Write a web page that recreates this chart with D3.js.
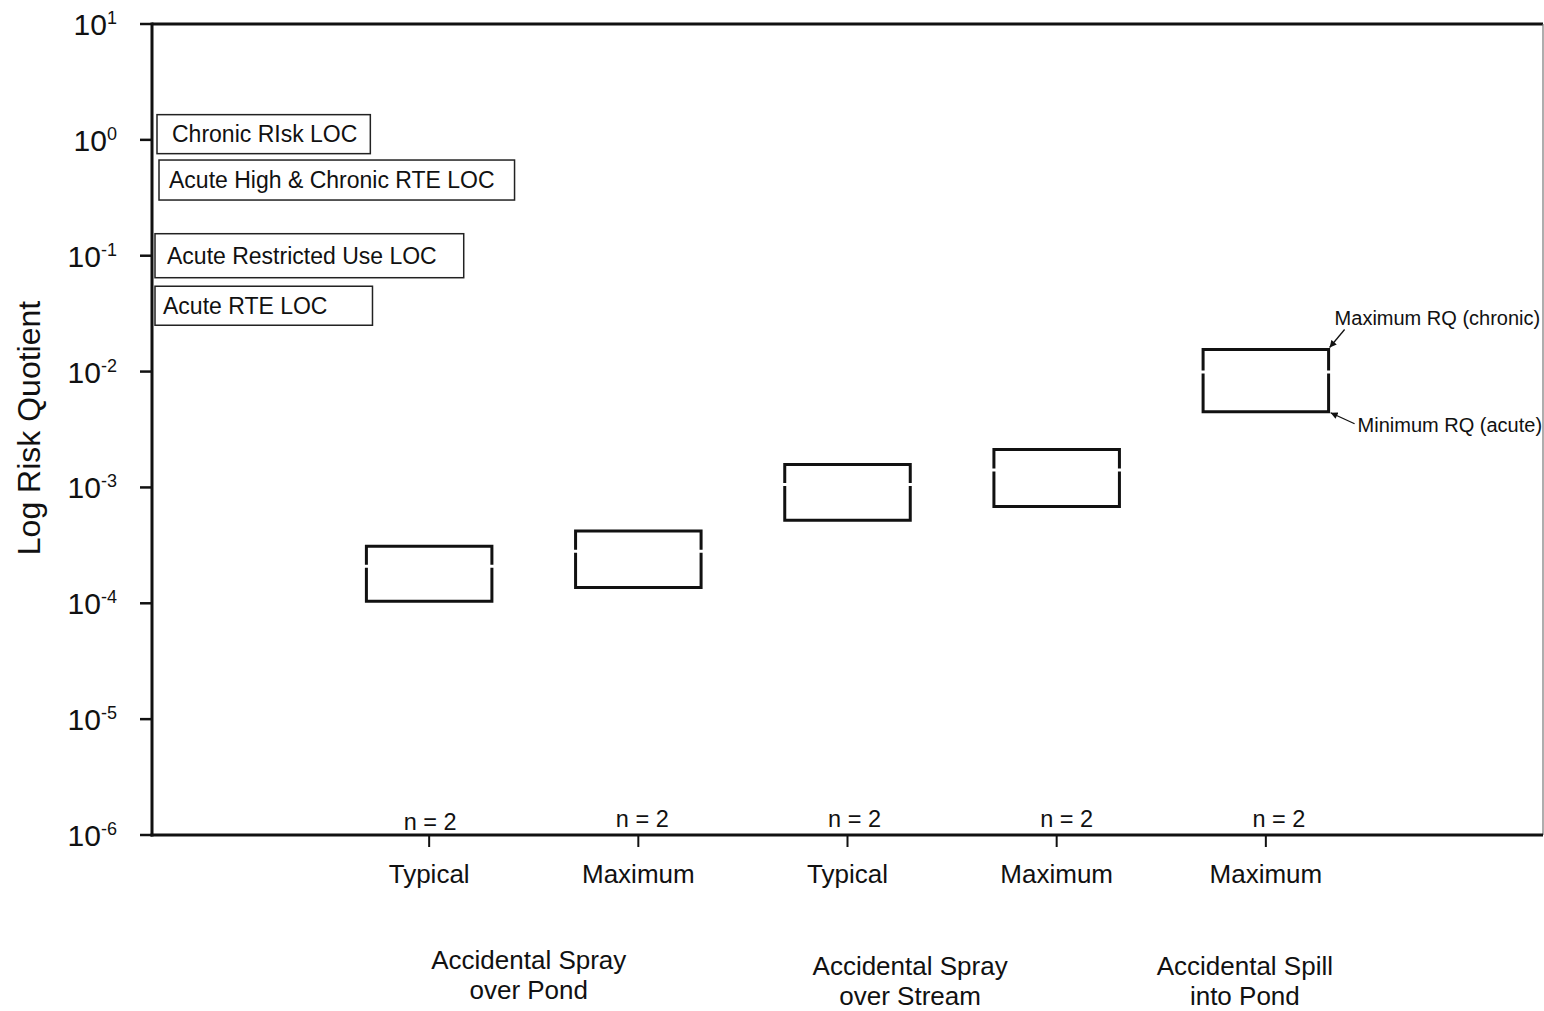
<!DOCTYPE html>
<html lang="en">
<head>
    <meta charset="UTF-8">
    <title>Log Risk Quotient</title>
    <script src="https://d3js.org/d3.v7.min.js"></script>
    <style>
        body { margin: 0; background: #fff; font-family: "Liberation Sans", Arial, sans-serif; }
        svg { display: block; }
        text { fill: #111; }
    </style>
</head>
<body>
    <svg id="chart" width="1544" height="1011"></svg>

    <script>
        // scenario columns along the x axis
        const scenarioLabels = ["Typical", "Maximum", "Typical", "Maximum", "Maximum"];
        const sampleSizes = [2, 2, 2, 2, 2];
        // risk quotient range per scenario (top = max chronic RQ, bottom = min acute RQ)
        const rqMax = [3.1e-4, 4.2e-4, 1.58e-3, 2.13e-3, 1.55e-2];
        const rqMin = [1.04e-4, 1.37e-4, 5.2e-4, 6.85e-4, 4.5e-3];

        // exposure groups under the scenario labels
        const groupLines = [
            ["Accidental Spray", "over Pond"],
            ["Accidental Spray", "over Stream"],
            ["Accidental Spill", "into Pond"]
        ];
        const groupMembers = [[0, 1], [2, 3], [4]];

        // level of concern labels and the RQ level they sit at
        const locLabels = ["Chronic RIsk LOC", "Acute High & Chronic RTE LOC", "Acute Restricted Use LOC", "Acute RTE LOC"];
        const locLevels = [1.12, 0.45, 0.1, 0.037];

        const yTickExponents = [1, 0, -1, -2, -3, -4, -5, -6];

        const svg = d3.select("#chart");
        const plotLeft = 152, plotRight = 1543, plotTop = 24, plotBottom = 835;

        const y = d3.scaleLog().domain([1e-6, 10]).range([plotBottom, plotTop]);
        const x = d3.scalePoint()
            .domain(scenarioLabels.map((d, i) => i))
            .range([plotLeft, plotRight])
            .padding(1.325);
        const boxW = x.step() * 0.6;

        // frame: top line heavy, right line thin
        svg.append("line")
            .attr("x1", plotLeft).attr("x2", plotRight)
            .attr("y1", plotTop).attr("y2", plotTop)
            .attr("stroke", "#111").attr("stroke-width", 3);
        svg.append("line")
            .attr("x1", plotRight).attr("x2", plotRight)
            .attr("y1", plotTop).attr("y2", plotBottom)
            .attr("stroke", "#777").attr("stroke-width", 1.2);

        // y axis
        const yAxis = svg.append("g");
        yAxis.append("line")
            .attr("x1", plotLeft).attr("x2", plotLeft)
            .attr("y1", plotTop - 1.5).attr("y2", plotBottom + 1.5)
            .attr("stroke", "#111").attr("stroke-width", 3);
        const yt = yAxis.selectAll("g.tick")
            .data(yTickExponents)
            .join("g")
            .attr("class", "tick")
            .attr("transform", d => `translate(0,${y(Math.pow(10, d))})`);
        yt.append("line")
            .attr("x1", plotLeft - 12).attr("x2", plotLeft)
            .attr("stroke", "#111").attr("stroke-width", 2.5);
        const ytl = yt.append("text")
            .attr("x", 117)
            .attr("y", 11)
            .attr("text-anchor", "end")
            .style("font-size", "30px");
        ytl.append("tspan").text("10");
        ytl.append("tspan")
            .attr("dy", -11)
            .style("font-size", "18px")
            .text(d => d);

        svg.append("text")
            .attr("transform", "translate(40,428) rotate(-90)")
            .attr("text-anchor", "middle")
            .style("font-size", "32px")
            .text("Log Risk Quotient");

        // x axis
        svg.append("line")
            .attr("x1", plotLeft - 1.5).attr("x2", plotRight)
            .attr("y1", plotBottom).attr("y2", plotBottom)
            .attr("stroke", "#111").attr("stroke-width", 3);
        const xt = svg.append("g").selectAll("g")
            .data(scenarioLabels)
            .join("g")
            .attr("transform", (d, i) => `translate(${x(i)},0)`);
        xt.append("line")
            .attr("y1", plotBottom).attr("y2", plotBottom + 12)
            .attr("stroke", "#111").attr("stroke-width", 2);
        xt.append("text")
            .attr("y", plotBottom + 48)
            .attr("text-anchor", "middle")
            .style("font-size", "26px")
            .text(d => d);
        xt.append("text")
            .attr("x", (d, i) => 1 + i * 3)
            .attr("y", (d, i) => i === 0 ? plotBottom - 5 : plotBottom - 8)
            .attr("text-anchor", "middle")
            .style("font-size", "23.5px")
            .text((d, i) => "n = " + sampleSizes[i]);

        // group labels
        const groupNudge = [[-5, 0], [-42, 6], [-21, 6]];
        const gl = svg.append("g").selectAll("text")
            .data(groupLines)
            .join("text")
            .attr("text-anchor", "middle")
            .style("font-size", "26px")
            .attr("transform", (d, i) => {
                const cx = d3.mean(groupMembers[i], k => x(k)) + groupNudge[i][0];
                return `translate(${cx},${969 + groupNudge[i][1]})`;
            });
        gl.selectAll("tspan")
            .data(d => d)
            .join("tspan")
            .attr("x", 0)
            .attr("dy", (d, j) => j === 0 ? 0 : 30)
            .text(d => d);

        // RQ range boxes, sides broken a little above the middle
        const boxes = svg.append("g")
            .attr("fill", "none")
            .attr("stroke", "#111")
            .attr("stroke-width", 3)
            .attr("stroke-linejoin", "miter");
        scenarioLabels.forEach((d, i) => {
            const x0 = x(i) - boxW / 2, x1 = x(i) + boxW / 2;
            const y0 = y(rqMax[i]), y1 = y(rqMin[i]);
            const gy = y0 + (y1 - y0) * 0.36;
            const path = d3.path();
            path.moveTo(x0, gy - 1.5);
            path.lineTo(x0, y0);
            path.lineTo(x1, y0);
            path.lineTo(x1, gy - 1.5);
            path.moveTo(x0, gy + 1.5);
            path.lineTo(x0, y1);
            path.lineTo(x1, y1);
            path.lineTo(x1, gy + 1.5);
            boxes.append("path").attr("d", path.toString());
        });

        // level of concern labels (box layout tuned per label)
        const locBox = [
            { x: 157, pad: 13, h: 39, inset: 15 },
            { x: 159, pad: 20, h: 40, inset: 10 },
            { x: 155, pad: 27, h: 44, inset: 12 },
            { x: 155, pad: 45, h: 39, inset: 8 }
        ];
        const loc = svg.append("g").selectAll("g")
            .data(locLabels)
            .join("g")
            .attr("transform", (d, i) => `translate(${locBox[i].x},${y(locLevels[i])})`);
        loc.append("text")
            .attr("x", (d, i) => locBox[i].inset)
            .attr("y", 8)
            .style("font-size", "23px")
            .text(d => d);
        loc.insert("rect", "text")
            .each(function (d, i) {
                const bb = this.parentNode.querySelector("text").getBBox();
                d3.select(this)
                    .attr("x", 0)
                    .attr("y", -locBox[i].h / 2)
                    .attr("width", bb.x + bb.width + locBox[i].pad)
                    .attr("height", locBox[i].h);
            })
            .attr("fill", "#fff")
            .attr("stroke", "#222")
            .attr("stroke-width", 1.5);

        // annotation of the last box
        const defs = svg.append("defs");
        defs.append("marker")
            .attr("id", "arrow")
            .attr("viewBox", "0 -5 10 10")
            .attr("refX", 10)
            .attr("refY", 0)
            .attr("orient", "auto")
            .attr("markerWidth", 8)
            .attr("markerHeight", 7)
            .attr("markerUnits", "userSpaceOnUse")
            .append("path")
            .attr("d", "M0,-5L10,0L0,5Z")
            .attr("fill", "#111");

        const last = scenarioLabels.length - 1;
        const ax = x(last) + boxW / 2;
        const aTop = y(rqMax[last]), aBot = y(rqMin[last]);
        const ann = svg.append("g").attr("stroke", "#111").attr("stroke-width", 1.3);
        ann.append("line")
            .attr("x1", ax + 16).attr("y1", aTop - 20)
            .attr("x2", ax + 1).attr("y2", aTop - 2)
            .attr("marker-end", "url(#arrow)");
        ann.append("line")
            .attr("x1", ax + 26).attr("y1", aBot + 12)
            .attr("x2", ax + 2).attr("y2", aBot + 1)
            .attr("marker-end", "url(#arrow)");
        svg.append("text")
            .attr("x", ax + 6).attr("y", aTop - 25)
            .style("font-size", "20px")
            .text("Maximum RQ (chronic)");
        svg.append("text")
            .attr("x", ax + 29).attr("y", aBot + 20)
            .style("font-size", "20px")
            .text("Minimum RQ (acute)");
    </script>
</body>
</html>
